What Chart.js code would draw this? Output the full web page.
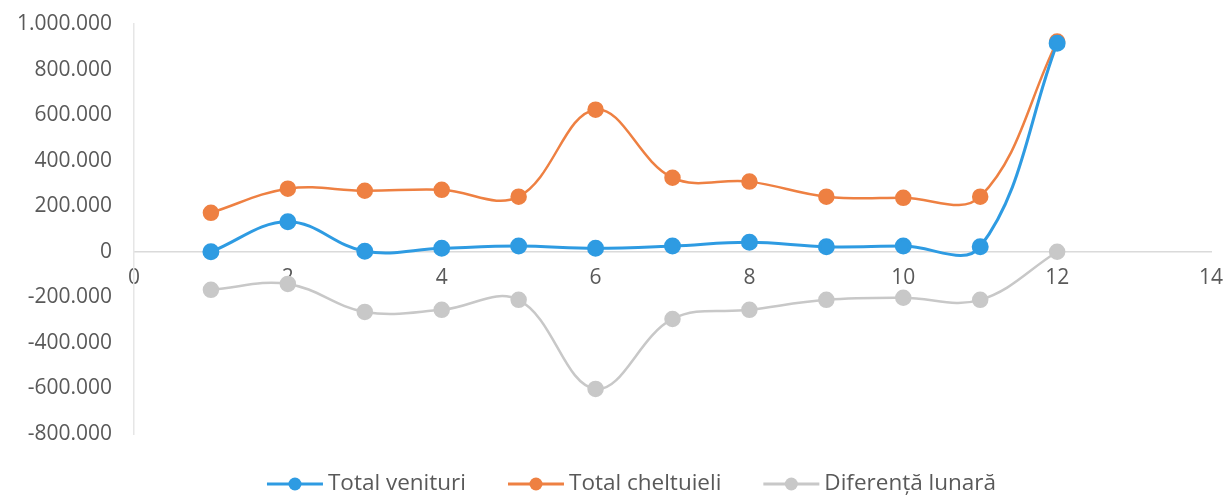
<!DOCTYPE html>
<html>
<head>
<meta charset="utf-8">
<script src="https://cdn.jsdelivr.net/npm/chart.js@4"></script>
<style>
  html, body { margin: 0; padding: 0; background: #fff; }
  #wrap { width: 1229px; height: 497px; }
</style>
</head>
<body>
<div id="wrap"><canvas id="myChart"></canvas></div>
<script>
const luni = [1, 2, 3, 4, 5, 6, 7, 8, 9, 10, 11, 12];
const totalVenituri = [0, 132000, 2000, 15000, 25000, 15000, 25000, 42000, 22000, 25000, 22000, 915000];
const totalCheltuieli = [171000, 277000, 268000, 272000, 242000, 624000, 325000, 308000, 242000, 237000, 242000, 923000];
const diferentaLunara = [-167000, -141000, -264000, -255000, -211000, -602000, -295000, -255000, -211000, -202000, -211000, 0];
const seriesNames = ['Total venituri', 'Total cheltuieli', 'Diferență lunară'];
const colors = ['#2E9BE2', '#EE8042', '#C8C8C8'];

function pts(vals) {
  return luni.map((x, i) => ({ x: x, y: vals[i] }));
}
function fmt(v) {
  const s = Math.abs(v).toString().replace(/\B(?=(\d{3})+(?!\d))/g, '.');
  return (v < 0 ? '-' : '') + s;
}

// bottom legend drawn by hand: line with a dot, like the spreadsheet legend
const legendLine = {
  id: 'legendLine',
  afterDraw(chart) {
    const ctx = chart.ctx;
    const cy = 484, markW = 56, textGap = 5, itemGap = 42;
    ctx.save();
    ctx.font = '22.5px "Open Sans"';
    const widths = seriesNames.map(n => ctx.measureText(n).width);
    let total = 0;
    widths.forEach((w, i) => { total += markW + textGap + w + (i ? itemGap : 0); });
    let x = (chart.width - total) / 2 + 17;
    seriesNames.forEach((n, i) => {
      ctx.strokeStyle = colors[i];
      ctx.lineWidth = 3;
      ctx.beginPath();
      ctx.moveTo(x, cy);
      ctx.lineTo(x + markW, cy);
      ctx.stroke();
      ctx.fillStyle = colors[i];
      ctx.beginPath();
      ctx.arc(x + markW / 2, cy, 6.5, 0, Math.PI * 2);
      ctx.fill();
      ctx.fillStyle = '#595959';
      ctx.textBaseline = 'middle';
      ctx.fillText(n, x + markW + textGap, cy);
      x += markW + textGap + widths[i] + itemGap;
    });
    ctx.restore();
  }
};

const ctx = document.getElementById('myChart');
new Chart(ctx, {
  type: 'scatter',
  data: {
    datasets: [
      { label: seriesNames[0], data: pts(totalVenituri), borderColor: colors[0], backgroundColor: colors[0], borderWidth: 3 },
      { label: seriesNames[1], data: pts(totalCheltuieli), borderColor: colors[1], backgroundColor: colors[1], borderWidth: 2.5 },
      { label: seriesNames[2], data: pts(diferentaLunara), borderColor: colors[2], backgroundColor: colors[2], borderWidth: 2.5 }
    ].map(d => Object.assign(d, { showLine: true, tension: 0.38, pointRadius: 7, pointHoverRadius: 7, borderCapStyle: 'round' }))
  },
  options: {
    responsive: true,
    maintainAspectRatio: false,
    animation: false,
    layout: { padding: { top: 24, right: 18, bottom: 63, left: 0 } },
    scales: {
      x: {
        type: 'linear',
        position: { y: 0 },
        min: 0, max: 14,
        afterFit: (s) => { s.paddingLeft = 0; s.paddingRight = 0; },
        ticks: { stepSize: 2, color: '#595959', font: { family: 'Open Sans', size: 21 }, padding: 14 },
        grid: { display: false, drawTicks: false },
        border: { color: '#DADADA', width: 1.5 }
      },
      y: {
        min: -800000, max: 1000000,
        afterFit: (s) => { s.width = 134; s.paddingTop = 0; s.paddingBottom = 0; },
        ticks: { stepSize: 200000, color: '#595959', font: { family: 'Open Sans', size: 21 }, padding: 22, callback: (v) => fmt(v) },
        grid: { display: false, drawTicks: false },
        border: { color: '#E6E6E6', width: 1.5 }
      }
    },
    plugins: {
      tooltip: { enabled: false },
      legend: { display: false }
    }
  },
  plugins: [legendLine]
});
</script>
</body>
</html>
